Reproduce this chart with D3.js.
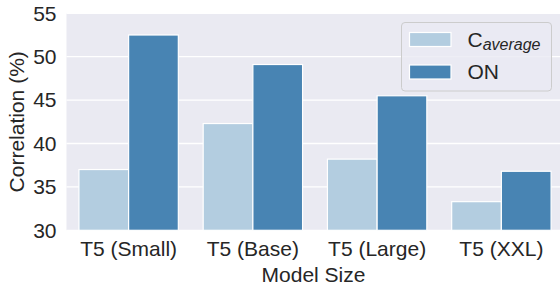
<!DOCTYPE html>
<html>
<head>
<meta charset="utf-8">
<script src="https://cdn.jsdelivr.net/npm/d3@7"></script>
<style>
  html, body { margin: 0; padding: 0; background: #fff; }
  svg { display: block; }
  text { font-family: "Liberation Sans", Arial, sans-serif; fill: #262626; }
</style>
</head>
<body>
<svg id="chart" width="560" height="285"></svg>
<script>
const categories = ["T5 (Small)", "T5 (Base)", "T5 (Large)", "T5 (XXL)"];
const seriesNames = ["C_average", "ON"];
const cAverage = [37.0, 42.3, 38.2, 33.3];
const onValues = [52.5, 49.1, 45.5, 36.8];
const yTicks = [30, 35, 40, 45, 50, 55];
const colors = ["#b3cde0", "#4884b3"];

(function () {
const pLeft = 66.5, pRight = 563.5, pTop = 13.3, pBottom = 230.3;
const svg = d3.select("#chart");

const x = d3.scaleBand().domain(categories).range([pLeft, pRight]).paddingInner(0).paddingOuter(0);
const y = d3.scaleLinear().domain([30, 55]).range([pBottom, pTop]);
const xs = d3.scaleBand().domain(seriesNames).range([0, x.bandwidth() * 0.8]);

svg.append("rect").attr("x", pLeft).attr("y", pTop)
  .attr("width", pRight - pLeft).attr("height", pBottom - pTop).attr("fill", "#eaeaf2");

// grid
svg.append("g").selectAll("line").data(yTicks).join("line")
  .attr("x1", pLeft).attr("x2", pRight)
  .attr("y1", d => y(d)).attr("y2", d => y(d))
  .attr("stroke", "#fff").attr("stroke-width", 1.3);

// y tick labels
const yAxis = d3.axisLeft(y).tickValues(yTicks).tickSize(0).tickPadding(10);
const ya = svg.append("g").attr("transform", `translate(${pLeft},0)`).call(yAxis);
ya.select(".domain").remove();
ya.selectAll("text").attr("font-size", 21).attr("fill", "#262626")
  .style("font-family", '"Liberation Sans", Arial, sans-serif');

// x tick labels
const xAxis = d3.axisBottom(x).tickSize(0).tickPadding(11);
const xa = svg.append("g").attr("transform", `translate(0,${pBottom})`).call(xAxis);
xa.select(".domain").remove();
xa.selectAll("text").attr("font-size", 21).attr("fill", "#262626")
  .style("font-family", '"Liberation Sans", Arial, sans-serif');

// bars
const data = [];
categories.forEach((c, i) => {
  data.push({ cat: c, s: seriesNames[0], v: cAverage[i], col: colors[0] });
  data.push({ cat: c, s: seriesNames[1], v: onValues[i], col: colors[1] });
});
svg.append("g").selectAll("rect").data(data).join("rect")
  .attr("x", d => x(d.cat) + x.bandwidth() * 0.1 + xs(d.s))
  .attr("width", xs.bandwidth())
  .attr("y", d => y(d.v))
  .attr("height", d => pBottom - y(d.v))
  .attr("fill", d => d.col)
  .attr("stroke", "#fff").attr("stroke-width", 1.2);

// axis labels
svg.append("text").attr("x", (pLeft + pRight) / 2 - 1.5).attr("y", 281.5)
  .attr("text-anchor", "middle").attr("font-size", 21).text("Model Size");
svg.append("text")
  .attr("transform", `translate(23.5,${(pTop + pBottom) / 2}) rotate(-90)`)
  .attr("text-anchor", "middle").attr("font-size", 21).text("Correlation (%)");

// legend
const lg = svg.append("g");
lg.append("rect").attr("x", 401.5).attr("y", 22.5).attr("width", 150).attr("height", 68.5)
  .attr("rx", 3.5).attr("fill", "#eaeaf2").attr("fill-opacity", 0.8)
  .attr("stroke", "#cccccc").attr("stroke-width", 1);
lg.append("rect").attr("x", 409.5).attr("y", 32.5).attr("width", 41.5).attr("height", 14)
  .attr("fill", colors[0]).attr("stroke", "#fff").attr("stroke-width", 1.2);
lg.append("rect").attr("x", 409.5).attr("y", 65).attr("width", 41.5).attr("height", 14)
  .attr("fill", colors[1]).attr("stroke", "#fff").attr("stroke-width", 1.2);
const t1 = lg.append("text").attr("x", 467.5).attr("y", 46.5).attr("font-size", 21);
t1.append("tspan").text("C");
t1.append("tspan").attr("dy", 3).attr("font-size", 16).attr("font-style", "italic").text("average");
lg.append("text").attr("x", 467.5).attr("y", 79).attr("font-size", 21).text("ON");
})();
</script>
</body>
</html>
